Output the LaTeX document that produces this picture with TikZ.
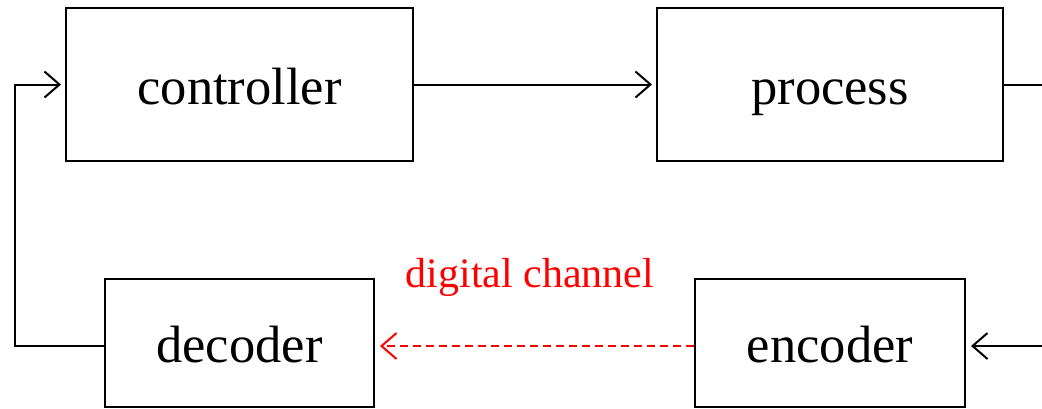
\documentclass[tikz,border=0pt]{standalone}
\usepackage{fontspec}
\setmainfont{Liberation Serif}
\usetikzlibrary{arrows.meta}
\begin{document}
\begin{tikzpicture}[x=1pt,y=-1pt,
  block/.style={draw,line width=2pt,inner sep=0pt,text height=44pt,text depth=5pt,
    font=\fontsize{52.5}{60}\selectfont},
  upper/.style={block,minimum height=153pt},
  lower/.style={block,minimum height=128pt},
  flow/.style={line width=2pt,-{Straight Barb[length=15pt,width=26pt,line width=2pt]}},
  link/.style={line width=2pt},
  channel/.style={flow,red,dash pattern=on 8pt off 5pt}]
\useasboundingbox (0,0) rectangle (1042,408);
\node[upper,minimum width=347pt] (ctrl) at (239.5,84.5) {controller};
\node[upper,minimum width=346pt] (proc) at (830,84.5) {process};
\node[lower,minimum width=269pt] (dec) at (239.5,343) {decoder};
\node[lower,minimum width=270pt] (enc) at (830,343) {encoder};
\node[red,inner sep=0pt,anchor=base,font=\fontsize{42}{50}\selectfont] (lbl) at (530,287) {digital channel};
\coordinate (pout) at (1042,84.5);
\coordinate (ein) at (1042,346);
\coordinate (dl) at (15,346);
\coordinate (ul) at (15,84.5);
\draw[flow,shorten >=4pt] (ctrl.east) -- (proc.west);
\draw[link] (proc.east) -- (pout);
\draw[flow,shorten >=5pt] (ein) -- (enc.east |- ein);
\draw[channel,shorten >=5pt] (enc.west |- ein) -- (dec.east |- ein);
\draw[flow,shorten >=4pt] (dec.west |- dl) -- (dl) -- (ul) -- (ctrl.west);
\end{tikzpicture}
\end{document}
